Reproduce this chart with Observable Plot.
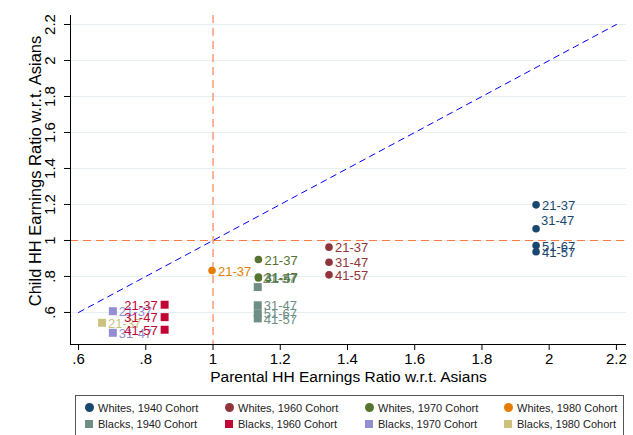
<!DOCTYPE html>
<html>
<head>
<meta charset="utf-8">
<script src="https://cdn.jsdelivr.net/npm/d3@7"></script>
<script src="https://cdn.jsdelivr.net/npm/@observablehq/plot@0.6"></script>
<style>
  html, body { margin: 0; padding: 0; background: #fff; }
  #wrap { position: relative; width: 633px; height: 435px; overflow: hidden; font-family: "Liberation Sans", Arial, sans-serif; }
  #legend { position: absolute; left: 75px; top: 395px; width: 549px; height: 48px; border: 1px solid #555; box-sizing: border-box; }
  .item { position: absolute; font-size: 11px; color: #222; white-space: nowrap; line-height: 12px; }
  .sw { position: absolute; width: 8px; height: 8px; top: 2px; left: -13px; }
  .sw.c { border-radius: 50%; width: 9px; height: 9px; top: 1px; }
</style>
</head>
<body>
<div id="wrap"><div id="chart"></div><div id="legend"></div></div>
<script>
// ---- data ----
const xTicks = [0.6, 0.8, 1, 1.2, 1.4, 1.6, 1.8, 2, 2.2];
const xTickLabels = [".6", ".8", "1", "1.2", "1.4", "1.6", "1.8", "2", "2.2"];
const yTicks = [0.6, 0.8, 1, 1.2, 1.4, 1.6, 1.8, 2, 2.2];
const yTickLabels = [".6", ".8", "1", "1.2", "1.4", "1.6", "1.8", "2", "2.2"];
const xTitle = "Parental HH Earnings Ratio w.r.t. Asians";
const yTitle = "Child HH Earnings Ratio w.r.t. Asians";

const seriesNames = ["Whites, 1940 Cohort", "Whites, 1960 Cohort", "Whites, 1970 Cohort", "Whites, 1980 Cohort",
                     "Blacks, 1940 Cohort", "Blacks, 1960 Cohort", "Blacks, 1970 Cohort", "Blacks, 1980 Cohort"];
const seriesColors = ["#1a476f", "#90353b", "#55752f", "#e37e00", "#6e8e84", "#c10534", "#938dd2", "#cac27e"];

// [age label, parental ratio, child ratio]
const whites1940 = [["21-37", 1.961, 1.198], ["31-47", 1.961, 1.065], ["51-67", 1.961, 0.972], ["41-57", 1.961, 0.937]];
const whites1960 = [["21-37", 1.345, 0.963], ["31-47", 1.345, 0.879], ["41-57", 1.345, 0.809]];
const whites1970 = [["21-37", 1.135, 0.894], ["31-47", 1.135, 0.797], ["41-57", 1.135, 0.792]];
const whites1980 = [["21-37", 0.997, 0.833]];
const blacks1940 = [["21-37", 1.133, 0.741], ["31-47", 1.133, 0.640], ["51-67", 1.133, 0.596], ["41-57", 1.133, 0.567]];
const blacks1960 = [["21-37", 0.856, 0.643], ["31-47", 0.856, 0.574], ["41-57", 0.856, 0.504]];
const blacks1970 = [["21-37", 0.702, 0.607], ["31-47", 0.702, 0.487]];
const blacks1980 = [["21-37", 0.670, 0.543]];

const allSeries = [whites1940, whites1960, whites1970, whites1980, blacks1940, blacks1960, blacks1970, blacks1980];

// ---- label placement (style, not data) ----
const upperRight = new Set(["Whites, 1940 Cohort|31-47", "Blacks, 1940 Cohort|21-37"]);
const leftSide = new Set(["Blacks, 1960 Cohort"]);

const rows = [];
allSeries.forEach((s, i) => {
  s.forEach(([lab, x, y]) => {
    const key = seriesNames[i] + "|" + lab;
    rows.push({
      series: seriesNames[i], label: lab, x, y,
      color: seriesColors[i], white: i < 4,
      pos: upperRight.has(key) ? "ne" : leftSide.has(seriesNames[i]) ? "w" : "e"
    });
  });
});

const xDomain = [0.576, 2.23];
const yDomain = [0.422, 2.25];
const diag = [{x: 0.6, y: 0.6}, {x: 2.2, y: 2.2}];
const fontFam = "'Liberation Sans', Arial, sans-serif";

const chart = Plot.plot({
  width: 633, height: 390,
  marginLeft: 70, marginRight: 7, marginTop: 15, marginBottom: 46,
  x: {domain: xDomain},
  y: {domain: yDomain},
  color: {type: "identity"},
  style: {fontFamily: fontFam, fontSize: "15px", color: "#000", background: "#fff"},
  marks: [
    Plot.ruleY(yTicks, {y: d => d, stroke: "#e6eef1", strokeWidth: 1}),
    Plot.ruleX([1], {stroke: "#fb7b45", strokeDasharray: "8,5", strokeWidth: 1.1}),
    Plot.ruleY([1], {stroke: "#fb7b45", strokeDasharray: "8,5", strokeWidth: 1.1}),
    Plot.line(diag, {x: "x", y: "y", stroke: "#0000ff", strokeDasharray: "6,5", strokeWidth: 1}),
    Plot.ruleX([xDomain[0]], {stroke: "#000", strokeWidth: 1}),
    Plot.ruleY([yDomain[0]], {stroke: "#000", strokeWidth: 1}),
    Plot.axisX({ticks: xTicks, tickFormat: d => xTickLabels[xTicks.indexOf(d)], tickSize: 6, tickPadding: 3, fontSize: 15, label: null, stroke: "#000"}),
    Plot.axisY({ticks: yTicks, tickFormat: () => "", tickSize: 6, label: null, stroke: "#000"}),
    Plot.text(yTicks, {y: d => d, text: d => yTickLabels[yTicks.indexOf(d)], frameAnchor: "left", dx: -20, rotate: -90, textAnchor: "middle", lineAnchor: "middle", fontSize: 15, fill: "#000"}),
    Plot.text([yTitle], {text: d => d, frameAnchor: "left", dx: -35, dy: -9, rotate: -90, textAnchor: "middle", lineAnchor: "middle", fontSize: 16.5, fill: "#000"}),
    Plot.text([xTitle], {text: d => d, frameAnchor: "bottom", dy: 33, textAnchor: "middle", lineAnchor: "middle", fontSize: 15.5, fill: "#000"}),
    Plot.dot(rows.filter(d => d.white), {x: "x", y: "y", r: 3.8, fill: "color", stroke: "none", symbol: "circle"}),
    Plot.dot(rows.filter(d => !d.white), {x: "x", y: "y", r: 4.5, fill: "color", stroke: "none", symbol: "square"}),
    Plot.text(rows.filter(d => d.pos === "e"), {x: "x", y: "y", text: "label", fill: "color", fontSize: 13, textAnchor: "start", dx: 6, dy: 1}),
    Plot.text(rows.filter(d => d.pos === "ne"), {x: "x", y: "y", text: "label", fill: "color", fontSize: 13, textAnchor: "start", dx: 5, dy: -8}),
    Plot.text(rows.filter(d => d.pos === "w"), {x: "x", y: "y", text: "label", fill: "color", fontSize: 13, textAnchor: "end", dx: -7, dy: 1})
  ]
});
document.getElementById("chart").appendChild(chart);

// ---- legend ----
const legend = document.getElementById("legend");
const colX = [22, 162, 302, 441];
const rowY = [6, 22];
seriesNames.forEach((name, i) => {
  const col = i % 4, row = i < 4 ? 0 : 1;
  const div = document.createElement("div");
  div.className = "item";
  div.style.left = colX[col] + "px";
  div.style.top = rowY[row] + "px";
  const sw = document.createElement("span");
  sw.className = "sw" + (row === 0 ? " c" : "");
  sw.style.background = seriesColors[i];
  div.appendChild(sw);
  div.appendChild(document.createTextNode(name));
  legend.appendChild(div);
});
</script>
</body>
</html>
